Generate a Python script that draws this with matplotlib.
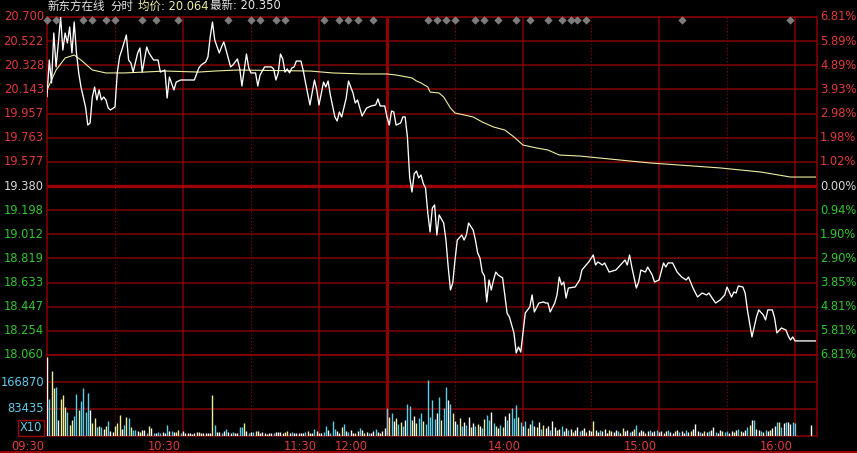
import numpy as np
import matplotlib
matplotlib.use("Agg")
import matplotlib.pyplot as plt
from matplotlib.lines import Line2D

plt.rcParams['font.family'] = ['DejaVu Sans', 'Noto Sans CJK SC']

# ---------------------------------------------------------------- data
# trading minutes since 09:30 (09:30-12:00 = 0..150, 13:00-16:10 = 150..340)
price_min = [0, 1, 2, 3, 4, 5, 6, 7, 8, 9, 10, 11, 12, 13, 14, 15, 17, 18, 19, 20,
             21, 22, 23, 24, 25, 26, 27, 28, 30, 31, 32, 33, 35, 36, 37, 38, 40, 41, 42, 44,
             45, 47, 49, 50, 52, 53, 54, 56, 57, 59, 65, 67, 68, 70, 71, 72, 73, 74, 76, 77,
             78, 79, 81, 82, 84, 85, 86, 87, 88, 89, 90, 92, 93, 94, 96, 99, 100, 101, 102, 103,
             104, 105, 106, 107, 108, 109, 110, 112, 113, 114, 116, 118, 119, 120, 122, 123, 124, 125, 127, 128,
             129, 130, 132, 133, 135, 136, 137, 139, 141, 143, 145, 146, 147, 149, 150,
             151, 152, 153, 154, 155, 156, 157, 158, 159, 160, 161, 162, 163, 164, 165, 166, 167, 168, 169, 170,
             171, 172, 173, 175, 176, 177, 178, 179, 180, 181, 183, 184, 185, 186, 188, 189, 190, 191, 192, 193,
             194, 195, 196, 197, 198, 199, 201, 203, 204, 206, 207, 208, 209, 210, 211, 212, 213, 214, 215, 217,
             219, 220, 221, 222, 224, 225, 226, 227, 228, 229, 230, 233, 235, 236, 239, 241, 242, 243, 245, 246,
             248, 251, 253, 255, 256, 257, 258, 260, 261, 262, 264, 265, 267, 268, 270, 272, 273, 274, 276, 278,
             280, 282, 283, 285, 287, 289, 291, 292, 294, 295, 297, 299, 300, 301, 302, 303, 304, 305, 307, 308,
             309, 311, 313, 314, 316, 317, 318, 320, 321, 322, 324, 326, 327, 328, 329, 330, 339]
price = [20.078, 20.364, 20.185, 20.575, 20.310, 20.497, 20.700, 20.442, 20.575, 20.497, 20.622, 20.419, 20.661, 20.419, 20.263, 20.153, 19.997, 19.856, 19.872, 20.075,
         20.153, 20.052, 20.130, 20.052, 20.075, 20.052, 19.989, 19.974, 19.997, 20.263, 20.388, 20.442, 20.559, 20.364, 20.341, 20.270, 20.419, 20.458, 20.270, 20.466,
         20.419, 20.364, 20.364, 20.270, 20.286, 20.067, 20.231, 20.130, 20.192, 20.208, 20.208, 20.302, 20.325, 20.349, 20.388, 20.544, 20.661, 20.520, 20.419, 20.466,
         20.505, 20.442, 20.310, 20.325, 20.372, 20.300, 20.161, 20.286, 20.411, 20.302, 20.263, 20.263, 20.161, 20.247, 20.310, 20.310, 20.294, 20.208, 20.263, 20.411,
         20.372, 20.270, 20.294, 20.263, 20.302, 20.310, 20.356, 20.356, 20.286, 20.192, 20.013, 20.208, 20.130, 20.013, 20.192, 20.153, 20.200, 20.091, 19.919, 19.888,
         19.958, 19.919, 20.067, 20.200, 20.106, 20.028, 20.052, 19.927, 19.989, 20.005, 20.013, 20.060, 20.005, 20.005, 19.919,
         19.856, 19.966, 19.958, 19.856, 19.864, 19.872, 19.920, 19.919, 19.763, 19.450, 19.333, 19.475, 19.497, 19.443, 19.466, 19.400, 19.364, 19.169, 19.021, 19.208,
         19.232, 18.997, 19.154, 19.091, 18.958, 18.747, 18.568, 18.623, 18.802, 18.958, 18.997, 18.958, 18.997, 19.091, 19.036, 18.958, 18.857, 18.818, 18.708, 18.677,
         18.474, 18.646, 18.568, 18.646, 18.708, 18.685, 18.662, 18.385, 18.357, 18.232, 18.076, 18.123, 18.083, 18.232, 18.388, 18.412, 18.435, 18.529, 18.396, 18.466,
         18.474, 18.466, 18.466, 18.396, 18.466, 18.529, 18.669, 18.607, 18.630, 18.505, 18.583, 18.591, 18.646, 18.724, 18.787, 18.841, 18.763, 18.787, 18.763, 18.779,
         18.708, 18.724, 18.763, 18.802, 18.763, 18.841, 18.747, 18.583, 18.630, 18.724, 18.708, 18.747, 18.685, 18.630, 18.646, 18.779, 18.747, 18.779, 18.779, 18.708,
         18.669, 18.646, 18.669, 18.583, 18.513, 18.544, 18.529, 18.544, 18.490, 18.466, 18.490, 18.529, 18.591, 18.552, 18.513, 18.552, 18.544, 18.599, 18.591, 18.544,
         18.412, 18.201, 18.357, 18.412, 18.373, 18.334, 18.412, 18.412, 18.349, 18.232, 18.271, 18.255, 18.209, 18.177, 18.201, 18.170, 18.170]

avg_min = [0, 4, 8, 12, 15, 20, 26, 34, 43, 52, 67, 74, 84, 116, 126, 139, 150, 154, 159, 161,
           163, 165, 168, 169, 173, 175, 178, 180, 184, 188, 192, 197, 202, 206, 210, 216, 221, 226, 235, 266,
           297, 315, 328, 339]
avg_price = [20.130, 20.286, 20.380, 20.403, 20.364, 20.286, 20.263, 20.263, 20.270, 20.278, 20.270, 20.278, 20.286, 20.278, 20.263, 20.255, 20.255, 20.247, 20.231, 20.224,
             20.200, 20.185, 20.153, 20.114, 20.106, 20.075, 19.989, 19.950, 19.935, 19.919, 19.880, 19.841, 19.817, 19.763, 19.700, 19.677, 19.661, 19.622, 19.614, 19.560,
             19.521, 19.489, 19.450, 19.450]

# volume per minute (thousands), minutes 0..330, plus one closing-auction bar
volume = [243, 113, 202, 147, 150, 49, 113, 127, 91, 75, 34, 49, 62, 130, 80, 108, 147, 75, 134, 80,
          41, 55, 29, 31, 29, 21, 31, 46, 16, 13, 31, 41, 65, 21, 34, 58, 55, 29, 19, 19,
          16, 13, 19, 19, 10, 31, 24, 10, 8, 12, 10, 12, 10, 34, 16, 14, 13, 13, 19, 8,
          16, 8, 10, 8, 5, 8, 12, 13, 10, 8, 8, 8, 8, 127, 34, 13, 12, 10, 16, 21,
          12, 8, 13, 10, 8, 27, 27, 41, 16, 10, 12, 13, 16, 14, 10, 12, 10, 6, 10, 8,
          10, 12, 12, 12, 8, 12, 14, 8, 12, 8, 10, 8,
          10, 8, 12, 16, 10, 8, 22, 14, 10, 8, 12, 30, 18, 10, 45, 22, 14, 10, 28, 38,
          16, 12, 20, 10, 8, 14, 26, 18, 10, 12, 8, 10, 14, 22, 12, 10, 16, 24,
          85, 60, 72, 45, 55, 38, 42, 30, 50, 99, 92, 48, 62, 40, 55, 70, 45, 36, 173, 60,
          110, 52, 70, 120, 48, 85, 150, 110, 100, 70, 45, 38, 55, 30, 42, 35, 60, 28, 40, 32,
          38, 30, 25, 52, 66, 48, 75, 40, 30, 25, 35, 28, 62, 48, 70, 85, 55, 95, 60, 42,
          30, 45, 25, 38, 50, 30, 28, 42, 22, 35, 25, 30, 20, 45, 28, 18, 22, 30, 15, 25,
          18, 22, 12, 20, 28, 15, 18, 25, 12, 20, 15, 46, 18, 12, 20, 15, 22, 10, 18, 14,
          12, 20, 16, 10, 25, 14, 18, 12, 16, 22, 34, 12, 18, 14, 10, 16, 20, 12, 15, 18,
          12, 16, 10, 14, 18, 12, 10, 15, 20, 12, 14, 10, 18, 12, 16, 22, 37, 14, 12, 10,
          16, 12, 14, 20, 27, 12, 10, 18, 14, 12, 16, 10, 14, 12, 18, 22, 15, 12, 20, 28,
          35, 50, 48, 22, 18, 14, 12, 20, 16, 18, 25, 30, 42, 44, 28, 40, 44, 42, 38, 44,
          40]
volume_colors = ("wcyycwyyyc" "yyccyccccw" "yycycwycww" "yyywcycycc" "wywwcywcwc" "cwwcwcwyyc"
                 "wwwwwwwyww" "wwwycwwcwc" "wwcwwccywc" "wcywwwwwww" "cwwwwyywcw" "ww"
                 "wwcywwcwyw" "ccwcccwwyc" "wcwwywcwyw" "cwwcwyww"
                 "cycwycycwc" "cywyccyccc" "ccwcyccwcy" "wcycwcwywc" "ywcyccwcyw" "cywcwcccyc"
                 "wcywcwywcy" "wwcwwywcww" "cwywwcwwyw" "wywwcwwwyw" "wwcwywwcwy" "cwwwywcwwc"
                 "wwywcwwywc" "wwcwywwwcw" "ywcwwcwwyc" "cwwywcywwc" "ywcwwcycwy" "wwcycwcwwc" "c")
auction_min = 337
auction_vol = 34

# markers along the top edge (minutes)
event_min = [0, 4, 16, 20, 26, 30, 42, 48, 58, 80, 90, 94, 101, 105, 122, 129, 133, 137, 144,
             168, 172, 176, 180, 189, 193, 199, 207, 213, 221, 227, 231, 234, 238, 280, 328]

price_ticks = ["20.700", "20.522", "20.328", "20.143", "19.957", "19.763", "19.577", "19.380",
               "19.198", "19.012", "18.819", "18.633", "18.447", "18.254", "18.060"]
pct_ticks = ["6.81%", "5.89%", "4.89%", "3.93%", "2.98%", "1.98%", "1.02%", "0.00%",
             "0.94%", "1.90%", "2.90%", "3.85%", "4.81%", "5.81%", "6.81%"]
time_labels = ["09:30", "10:30", "11:30", "12:00", "14:00", "15:00", "16:00"]
time_label_pos = [-1.2, 59, 119, 141.5, 209, 269, 329]
vol_ticks = [83435, 166870]

# ---------------------------------------------------------------- layout
W, H = 857, 453
BG = "black"
GRID = "#800000"
RED = "#e03a3a"
GREEN = "#2ec82e"
CYAN = "#5ccde6"
YEL = "#eeeea0"


def px_rect(left, top, right, bottom):
    return [left / W, 1 - bottom / H, (right - left) / W, (bottom - top) / H]


fig = plt.figure(figsize=(W / 100, H / 100), dpi=100, facecolor=BG)
ax = fig.add_axes(px_rect(47, 17, 817, 355), facecolor=BG)
axv = fig.add_axes(px_rect(47, 355, 817, 436), facecolor=BG)

XMAX = 339.7
for a in (ax, axv):
    a.set_xlim(0, XMAX)
    a.set_xticks([])
    a.set_yticks([])
    for s in a.spines.values():
        s.set_color(GRID)
        s.set_linewidth(1.2)
    # time grid
    for m in (60, 120, 210, 270, 330):
        a.axvline(m, color=GRID, lw=1.1, zorder=1)
    for m in (30, 90, 180, 240, 300):
        a.axvline(m, color="#900000", lw=0.8, ls=(0, (1, 2)), zorder=1)
    a.axvline(150, color="#900000", lw=2.2, zorder=1)

lo, hi = 18.060, 20.700
ax.set_ylim(lo, hi)
levels = np.linspace(hi, lo, len(price_ticks))
for i, (lv, lab, pl) in enumerate(zip(levels, price_ticks, pct_ticks)):
    if lab == "19.380":
        ax.axhline(lv, color="#9a0000", lw=2.4, zorder=1)
        c = "#d8d8d8"
    else:
        ax.axhline(lv, color=GRID, lw=1.1, zorder=1)
        c = RED if i < 7 else GREEN
    ax.text(-0.004, lv, lab, transform=ax.get_yaxis_transform(), ha="right", va="center",
            color=c, fontsize=8.3)
    ax.text(1.004, lv, pl, transform=ax.get_yaxis_transform(), ha="left", va="center",
            color=c, fontsize=8.3)

ax.plot(avg_min, avg_price, color=YEL, lw=0.8, zorder=3)
ax.plot(price_min, price, color="white", lw=0.95, zorder=4)
ax.scatter(event_min, [0.991] * len(event_min), marker="D", s=18, color="#7c7c7c",
           transform=ax.get_xaxis_transform(), zorder=5, clip_on=False, linewidths=0)

# volume
cmap = {"w": "white", "y": YEL, "c": CYAN}
vmax = 3 * 83435
axv.set_ylim(0, vmax)
for v in vol_ticks + [vmax]:
    axv.axhline(v, color=GRID, lw=1.1, zorder=1)
vm = np.arange(len(volume))
vc = [cmap[k] for k in volume_colors[:len(volume)]]
axv.vlines(vm, 0, np.array(volume) * 1000, colors=vc, lw=1.0, zorder=3)
axv.vlines([auction_min], 0, [auction_vol * 1000], colors="white", lw=1.0, zorder=3)
for v in vol_ticks:
    axv.text(-0.004, v, str(v), transform=axv.get_yaxis_transform(), ha="right", va="center",
             color=CYAN, fontsize=8.3)
axv.text(-0.006, 0.1, "X10", transform=axv.transAxes, ha="right", va="center", color=CYAN,
         fontsize=8.3, bbox=dict(facecolor=BG, edgecolor="#a00000", pad=1.2, lw=1))

for lab, m in zip(time_labels, time_label_pos):
    axv.text(m, -0.05, lab, transform=axv.get_xaxis_transform(), ha="right", va="top",
             color=RED, fontsize=8.3)

# title
fig.text(47 / W, 1 - 6 / H, "新东方在线", color="#e6e6e6", fontsize=8.3, va="center")
fig.text(110 / W, 1 - 6 / H, "分时", color="#e6e6e6", fontsize=8.3, va="center")
fig.text(138 / W, 1 - 6 / H, "均价: 20.064", color=YEL, fontsize=8.3, va="center")
fig.text(210 / W, 1 - 6 / H, "最新: 20.350", color="#e6e6e6", fontsize=8.3, va="center")
fig.add_artist(Line2D([0, 1], [0.7 / H, 0.7 / H], color="#a00000", lw=1.4))

fig.savefig("out.png", dpi=100, facecolor=BG)
